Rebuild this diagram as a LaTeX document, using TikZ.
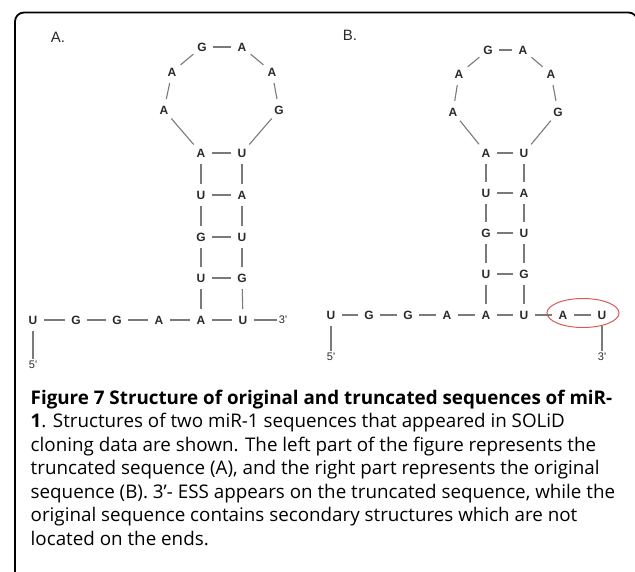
\documentclass[tikz,border=0pt]{standalone}
\usepackage{fontspec}
\setmainfont{Open Sans}
\newfontfamily\diagfont{Liberation Sans}
\usetikzlibrary{shapes.geometric}
\definecolor{ink}{HTML}{2A2A2A}
\definecolor{linkgray}{HTML}{7A7A7A}
\definecolor{ringred}{HTML}{D95A5A}
\tikzset{
  base/.style={circle, minimum size=22pt, inner sep=0pt, text=ink,
    font=\diagfont\bfseries\fontsize{12}{13}\selectfont},
  endlabel/.style={rectangle, inner sep=2pt, text=ink,
    font=\diagfont\fontsize{11}{12}\selectfont},
  panel/.style={anchor=center, text=ink, font=\diagfont\fontsize{15}{16}\selectfont},
  link/.style={draw=linkgray, line width=1.1pt},
  capline/.style={anchor=base west, inner sep=0pt, text=black,
    font=\fontsize{18.8}{20}\selectfont},
  frame/.style={draw=black, line width=1.8pt, rounded corners=9pt},
  ring/.style={draw=ringred, line width=1pt, ellipse, minimum width=72pt, minimum height=29pt, inner sep=0pt}
}
\begin{document}
\begin{tikzpicture}[x=1pt, y=-1pt]
\useasboundingbox (0,0) rectangle (635,571);
\clip (0,0) rectangle (635,571);
\draw[frame] (15,575) -- (15,12.5) -- (637.5,12.5) -- (637.5,80);

% ---------- Panel A ----------
\node[panel] (labA) at (58,37) {A.};
\node[base] (aG1) at (202,47) {G};
\node[base] (aA1) at (242,47) {A};
\node[base] (aA2) at (172,72) {A};
\node[base] (aA3) at (272,72) {A};
\node[base] (aA4) at (164,110) {A};
\node[base] (aG2) at (279,110) {G};
\node[base] (aL1) at (201,153) {A};
\node[base] (aR1) at (242,153) {U};
\node[base] (aL2) at (201,195) {U};
\node[base] (aR2) at (242,195) {A};
\node[base] (aL3) at (201,237) {G};
\node[base] (aR3) at (242,237) {U};
\node[base] (aL4) at (201,278) {U};
\node[base] (aR4) at (242,278) {G};
\node[base] (aB1) at (33,320) {U};
\node[base] (aB2) at (76,320) {G};
\node[base] (aB3) at (117,320) {G};
\node[base] (aB4) at (159,320) {A};
\node[base] (aB5) at (201,320) {A};
\node[base] (aB6) at (243,320) {U};
\node[endlabel] (aThree) at (283,320) {3'};
\node[endlabel] (aFive) at (33,365) {5'};

\draw[link] (aG1) -- (aA1);
\draw[link] (aG1) -- (aA2);
\draw[link] (aA2) -- (aA4);
\draw[link] (aA4) -- (aL1);
\draw[link] (aA1) -- (aA3);
\draw[link] (aA3) -- (aG2);
\draw[link] (aG2) -- (aR1);
\draw[link] (aL1) -- (aR1);
\draw[link] (aL2) -- (aR2);
\draw[link] (aL3) -- (aR3);
\draw[link] (aL4) -- (aR4);
\draw[link] (aL1) -- (aL2);
\draw[link] (aL2) -- (aL3);
\draw[link] (aL3) -- (aL4);
\draw[link] (aL4) -- (aB5);
\draw[link] (aR1) -- (aR2);
\draw[link] (aR2) -- (aR3);
\draw[link] (aR3) -- (aR4);
\draw[link] (aR4) -- (aB6);
\draw[link] (aB1) -- (aB2);
\draw[link] (aB2) -- (aB3);
\draw[link] (aB3) -- (aB4);
\draw[link] (aB4) -- (aB5);
\draw[link] (aB5) -- (aB6);
\draw[link] (aB6) -- (aThree);
\draw[link] (aB1) -- (aFive);

% ---------- Panel B ----------
\node[panel] (labB) at (350,35) {B.};
\node[base] (bG1) at (488,50) {G};
\node[base] (bA1) at (523,50) {A};
\node[base] (bA2) at (459,74) {A};
\node[base] (bA3) at (551,74) {A};
\node[base] (bA4) at (453,112) {A};
\node[base] (bG2) at (558,112) {G};
\node[base] (bL1) at (486,153) {A};
\node[base] (bR1) at (524,153) {U};
\node[base] (bL2) at (486,193) {U};
\node[base] (bR2) at (524,193) {A};
\node[base] (bL3) at (486,233) {G};
\node[base] (bR3) at (524,233) {U};
\node[base] (bL4) at (486,274) {U};
\node[base] (bR4) at (524,274) {G};
\node[base] (bB1) at (331,315) {U};
\node[base] (bB2) at (369,315) {G};
\node[base] (bB3) at (408,315) {G};
\node[base] (bB4) at (447,315) {A};
\node[base] (bB5) at (486,315) {A};
\node[base] (bB6) at (524,315) {U};
\node[base] (bB7) at (563,315) {A};
\node[base] (bB8) at (602,315) {U};
\node[endlabel] (bFive) at (331,357) {5'};
\node[endlabel] (bThree) at (602,357) {3'};
\node[ring] (bRing) at (583,313) {};

\draw[link] (bG1) -- (bA1);
\draw[link] (bG1) -- (bA2);
\draw[link] (bA2) -- (bA4);
\draw[link] (bA4) -- (bL1);
\draw[link] (bA1) -- (bA3);
\draw[link] (bA3) -- (bG2);
\draw[link] (bG2) -- (bR1);
\draw[link] (bL1) -- (bR1);
\draw[link] (bL2) -- (bR2);
\draw[link] (bL3) -- (bR3);
\draw[link] (bL4) -- (bR4);
\draw[link] (bL1) -- (bL2);
\draw[link] (bL2) -- (bL3);
\draw[link] (bL3) -- (bL4);
\draw[link] (bL4) -- (bB5);
\draw[link] (bR1) -- (bR2);
\draw[link] (bR2) -- (bR3);
\draw[link] (bR3) -- (bR4);
\draw[link] (bR4) -- (bB6);
\draw[link] (bB1) -- (bB2);
\draw[link] (bB2) -- (bB3);
\draw[link] (bB3) -- (bB4);
\draw[link] (bB4) -- (bB5);
\draw[link] (bB5) -- (bB6);
\draw[link] (bB6) -- (bB7);
\draw[link] (bB7) -- (bB8);
\draw[link] (bB1) -- (bFive);
\draw[link] (bB8) -- (bThree);

% ---------- Caption ----------
\node[capline] (cap1) at (30.5,404) {\bfseries Figure 7 Structure of original and truncated sequences of miR-};
\node[capline] (cap2) at (30.5,427.5) {\textbf{1}. Structures of two miR-1 sequences that appeared in SOLiD};
\node[capline] (cap3) at (30.5,451) {cloning data are shown. The left part of the figure represents the};
\node[capline] (cap4) at (30.5,474.5) {truncated sequence (A), and the right part represents the original};
\node[capline] (cap5) at (30.5,498) {sequence (B). 3'- ESS appears on the truncated sequence, while the};
\node[capline] (cap6) at (30.5,521.5) {original sequence contains secondary structures which are not};
\node[capline] (cap7) at (30.5,545) {located on the ends.};
\end{tikzpicture}
\end{document}
